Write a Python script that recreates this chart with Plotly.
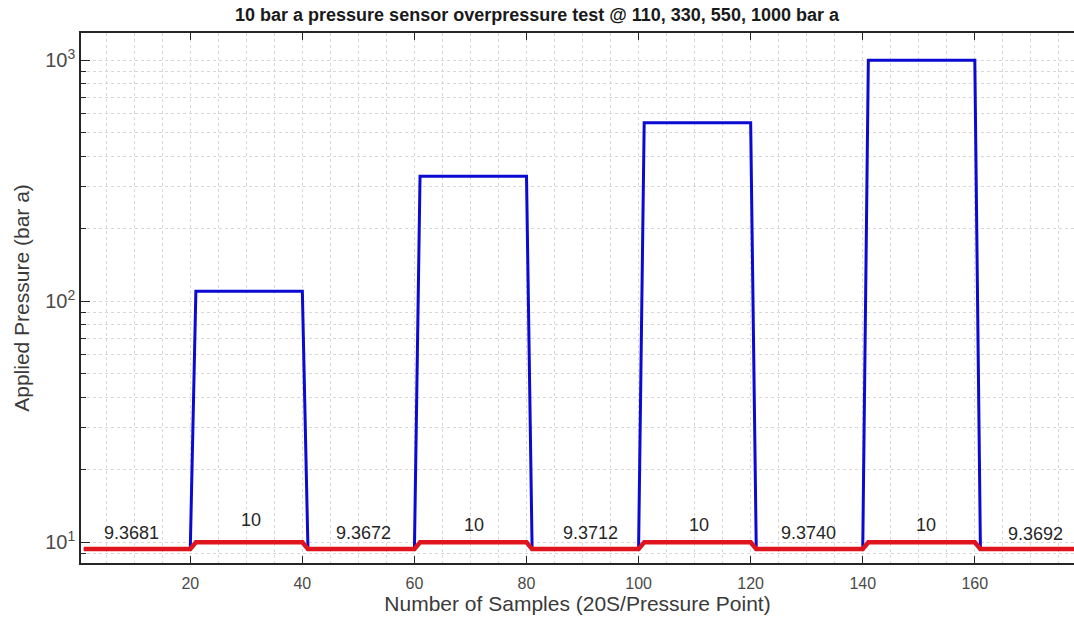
import numpy as np
import plotly.graph_objects as go

# Sample breakpoints (20 samples per pressure point)
sample_x = [1, 20, 21, 40, 41, 60, 61, 80, 81, 100, 101, 120, 121, 140, 141, 160, 161, 180]
# Applied pressure (bar a)
applied = [9.3681, 9.3681, 110, 110, 9.3672, 9.3672, 330, 330, 9.3712, 9.3712,
           550, 550, 9.3740, 9.3740, 1000, 1000, 9.3692, 9.3692]
# Sensor reading (bar a)
sensor = [9.3681, 9.3681, 10, 10, 9.3672, 9.3672, 10, 10, 9.3712, 9.3712,
          10, 10, 9.3740, 9.3740, 10, 10, 9.3692, 9.3692]

# Labels on the plot
label_text = ["9.3681", "10", "9.3672", "10", "9.3712", "10", "9.3740", "10", "9.3692"]
label_x = [9.5, 30.9, 51.0, 70.7, 91.4, 110.7, 130.4, 151.3, 170.8]
label_y = [10.9, 12.4, 10.9, 11.75, 10.9, 11.75, 10.9, 11.85, 10.85]

x_ticks = [20, 40, 60, 80, 100, 120, 140, 160]
y_ticks = [10, 100, 1000]
y_tick_text = ["10<sup>1</sup>", "10<sup>2</sup>", "10<sup>3</sup>"]

fig = go.Figure()
fig.add_trace(go.Scatter(x=sample_x, y=applied, mode="lines",
                         line=dict(color="#0a0ad2", width=3), showlegend=False))
fig.add_trace(go.Scatter(x=sample_x, y=sensor, mode="lines",
                         line=dict(color="#e0141c", width=4.5), showlegend=False))

for t, xv, yv in zip(label_text, label_x, label_y):
    fig.add_annotation(x=xv, y=np.log10(yv), text=t, showarrow=False,
                       xref="x", yref="y",
                       font=dict(family="Liberation Sans, Arial", size=18, color="#262626"))

grid_col = "#d8d8d8"
fig.update_layout(
    width=1074, height=626,
    margin=dict(l=81, r=0, t=33, b=63),
    paper_bgcolor="white", plot_bgcolor="white",
    font=dict(family="Liberation Sans, Arial", color="#4a4a4a"),
    title=dict(text="<b>10 bar a pressure sensor overpressure test @ 110, 330, 550, 1000 bar a</b>",
               x=0.5, xref="container", xanchor="center",
               y=0.977, yref="container", yanchor="middle",
               font=dict(size=18, color="#1a1a1a")),
    xaxis=dict(
        range=[0.5, 177.7],
        tickvals=x_ticks,
        ticks="inside", ticklen=7, tickcolor="#262626", tickwidth=1,
        showline=True, linecolor="#262626", linewidth=1.5, mirror="ticks",
        showgrid=True, gridcolor=grid_col, griddash="dot", gridwidth=1,
        minor=dict(dtick=5, showgrid=True, gridcolor=grid_col, griddash="dot", ticks=""),
        zeroline=False,
        tickfont=dict(size=16, color="#4a4a4a"),
        ticklabelstandoff=5,
        title=dict(text="Number of Samples (20S/Pressure Point)",
                   font=dict(size=21, color="#3a3a3a"), standoff=5),
    ),
    yaxis=dict(
        type="log",
        range=[0.914, 3.113],
        tickvals=y_ticks, ticktext=y_tick_text,
        ticks="inside", ticklen=9, tickcolor="#262626", tickwidth=1,
        showline=True, linecolor="#262626", linewidth=1.5,
        showgrid=True, gridcolor=grid_col, griddash="dot", gridwidth=1,
        minor=dict(dtick="D1", showgrid=True, gridcolor=grid_col, griddash="dot",
                   ticks="inside", ticklen=5, tickcolor="#262626"),
        zeroline=False,
        tickfont=dict(size=20, color="#4a4a4a"),
        title=dict(text="Applied Pressure (bar a)",
                   font=dict(size=21, color="#3a3a3a"), standoff=10),
    ),
)

fig.write_html("out.html", config={"displayModeBar": False},
               post_script="document.body.style.margin='0px';")
